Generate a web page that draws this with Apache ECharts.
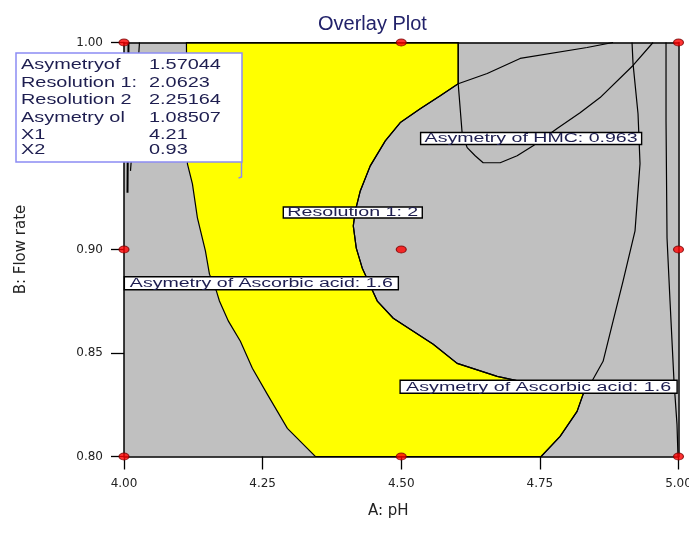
<!DOCTYPE html>
<html><head><meta charset="utf-8">
<script src="https://cdn.jsdelivr.net/npm/echarts@6/dist/echarts.min.js"></script>
<style>html,body{margin:0;padding:0;background:#fff}#c{width:689px;height:548px}</style>
</head><body><div id="c"></div>
<script>
// ---------- data ----------
const xTickLabels = ['4.00', '4.25', '4.50', '4.75', '5.00'];
const yTickLabels = ['0.80', '0.85', '0.90', '0.95', '1.00'];

const designX = [4.0, 4.5, 5.0, 4.0, 4.5, 5.0, 4.0, 4.5, 5.0];
const designY = [1.0, 1.0, 1.0, 0.9, 0.9, 0.9, 0.8, 0.8, 0.8];

// feasible (yellow) region outline
const feasibleX = [4.1126, 4.6027, 4.6027, 4.5703, 4.5342, 4.4982, 4.4712, 4.4441, 4.4261, 4.4171, 4.4135, 4.4189, 4.4297, 4.4568, 4.4856, 4.5216, 4.5577, 4.6009, 4.6730, 4.7144, 4.8405, 4.8279, 4.8171, 4.7865, 4.7523, 4.3450, 4.3180, 4.2946, 4.2586, 4.2315, 4.2099, 4.1883, 4.1721, 4.1667, 4.1541, 4.1468, 4.1324, 4.1234, 4.1144];
const feasibleY = [1.0000, 1.0000, 0.9801, 0.9743, 0.9680, 0.9613, 0.9525, 0.9404, 0.9283, 0.9186, 0.9114, 0.9007, 0.8910, 0.8751, 0.8668, 0.8605, 0.8542, 0.8450, 0.8387, 0.8363, 0.8345, 0.8300, 0.8218, 0.8097, 0.8000, 0.8000, 0.8073, 0.8136, 0.8300, 0.8426, 0.8557, 0.8654, 0.8751, 0.8799, 0.8881, 0.8993, 0.9153, 0.9317, 0.9414];

// contour: Resolution 1 = 2
const resX = [4.8820, 4.8351, 4.7144, 4.6550, 4.6027, 4.5703, 4.5342, 4.4982, 4.4712, 4.4441, 4.4261, 4.4171, 4.4135, 4.4189, 4.4297, 4.4568, 4.4856, 4.5216, 4.5577, 4.6009, 4.6730, 4.7144];
const resY = [1.0000, 0.9976, 0.9923, 0.9850, 0.9801, 0.9743, 0.9680, 0.9613, 0.9525, 0.9404, 0.9283, 0.9186, 0.9114, 0.9007, 0.8910, 0.8751, 0.8668, 0.8605, 0.8542, 0.8450, 0.8387, 0.8363];

// contour: Asymetry of HMC = 0.963
const hmcX = [4.6027, 4.6027, 4.6099, 4.6189, 4.6333, 4.6477, 4.6784, 4.7090, 4.7378, 4.7811, 4.8225, 4.8586, 4.9180, 4.9541];
const hmcY = [1.0000, 0.9801, 0.9559, 0.9492, 0.9453, 0.9419, 0.9419, 0.9453, 0.9501, 0.9584, 0.9661, 0.9734, 0.9889, 1.0000];

// contour: Asymetry of Ascorbic acid = 1.6 (right branch)
const ascRightX = [4.7523, 4.7865, 4.8171, 4.8279, 4.8459, 4.8640, 4.8820, 4.9000, 4.9216, 4.9306, 4.9270, 4.9180, 4.9162];
const ascRightY = [0.8000, 0.8097, 0.8218, 0.8300, 0.8373, 0.8460, 0.8654, 0.8847, 0.9090, 0.9414, 0.9656, 0.9898, 1.0000];

// other contours near the edges
const edgeX = [4.9775, 4.9775, 4.9793, 4.9847, 4.9919, 4.9973, 4.9991];
const edgeY = [1.0000, 0.9622, 0.9056, 0.8751, 0.8363, 0.8155, 0.8000];
const leftAX = [4.0279, 4.0225, 4.0171, 4.0117];
const leftAY = [1.0000, 0.9770, 0.9574, 0.9380];
const leftBX = [4.0081, 4.0072, 4.0063];
const leftBY = [1.0000, 0.9625, 0.9274];

// contour labels
const labelTexts = ['Asymetry of HMC: 0.963', 'Resolution 1: 2', 'Asymetry of Ascorbic acid: 1.6', 'Asymetry of Ascorbic acid: 1.6'];
const labelX = [4.7342, 4.4126, 4.2477, 4.7477];
const labelY = [0.9536, 0.9179, 0.8837, 0.8337];

// flag (info box) contents
const infoNames = ['Asymetryof', 'Resolution 1:', 'Resolution 2', 'Asymetry ol', 'X1', 'X2'];
const infoValues = ['1.57044', '2.0623', '2.25164', '1.08507', '4.21', '0.93'];

// ---------- styling (not data) ----------
const labelBox = [{w: 221, h: 12, tw: 213}, {w: 139, h: 11, tw: 131}, {w: 274, h: 13, tw: 263}, {w: 277, h: 13, tw: 265}];
const labelFont = '12px "Liberation Sans"';
const infoRowY = [65, 83, 100, 118, 135, 150.5];
const txtColor = '#1e1e50';

const mctx = document.createElement('canvas').getContext('2d');
function measure(t, f) { mctx.font = f; return mctx.measureText(t).width; }
const zip = (xs, ys) => xs.map((x, i) => [x, ys[i]]);
function contour(xs, ys, w) {
  return {type: 'line', data: zip(xs, ys), showSymbol: false, symbol: 'none', silent: true,
    lineStyle: {color: '#000', width: w || 1.2}, z: 3, animation: false};
}

const chart = echarts.init(document.getElementById('c'));
const axisFont = 'DejaVu Sans';
const infoEls = [{type: 'rect', z: 100, shape: {x: 16, y: 53, width: 226, height: 109},
  style: {fill: '#fff', stroke: '#8c8cf4', lineWidth: 1.5}},
  {type: 'polyline', z: 100, shape: {points: [[241.5, 162], [241.5, 177], [238.5, 178]]}, style: {stroke: '#8c8cf4', lineWidth: 1.5, fill: null}}];
infoNames.forEach((n, i) => {
  infoEls.push({type: 'text', z: 101, x: 21, y: infoRowY[i], scaleX: 1.42,
    style: {text: n, font: '14px "Liberation Sans"', fill: txtColor, align: 'left', verticalAlign: 'middle'}});
  infoEls.push({type: 'text', z: 101, x: 149, y: infoRowY[i], scaleX: 1.42,
    style: {text: infoValues[i], font: '14px "Liberation Sans"', fill: txtColor, align: 'left', verticalAlign: 'middle'}});
});

chart.setOption({
  animation: false,
  backgroundColor: '#fff',
  title: {text: 'Overlay Plot', left: 313, top: 9,
    textStyle: {fontFamily: 'Liberation Sans', fontSize: 20, fontWeight: 'normal', color: '#22226a'}},
  grid: {left: 124, right: 10.5, top: 42.5, bottom: 91.5, show: true, backgroundColor: '#c0c0c0', borderWidth: 0,
    outerBoundsMode: 'none', containLabel: false},
  xAxis: [{
    type: 'value', min: 4, max: 5, interval: 0.25, position: 'bottom', z: 5,
    axisLine: {lineStyle: {color: '#000', width: 1.5}},
    axisTick: {length: 13, lineStyle: {color: '#000', width: 1.3}},
    axisLabel: {formatter: (v) => xTickLabels[Math.round((v - 4) / 0.25)], fontFamily: axisFont, fontSize: 12, color: '#222', margin: 21},
    splitLine: {show: false},
    name: 'A: pH', nameLocation: 'middle', nameGap: 47,
    nameTextStyle: {fontFamily: axisFont, fontSize: 15, color: '#222', padding: [0, 26, 0, 0]}
  }, {
    type: 'value', min: 4, max: 5, position: 'top', z: 5,
    axisLine: {lineStyle: {color: '#000', width: 1.5}}, axisTick: {show: false}, axisLabel: {show: false}, splitLine: {show: false}
  }],
  yAxis: [{
    type: 'value', min: 0.8, max: 1.0, interval: 0.05, position: 'left', z: 5,
    axisLine: {lineStyle: {color: '#000', width: 1.5}},
    axisTick: {length: 13, lineStyle: {color: '#000', width: 1.3}},
    axisLabel: {formatter: (v) => yTickLabels[Math.round((v - 0.8) / 0.05)], fontFamily: axisFont, fontSize: 12, color: '#222', margin: 21},
    splitLine: {show: false},
    name: 'B: Flow rate', nameLocation: 'middle', nameGap: 95, nameRotate: 90,
    nameTextStyle: {fontFamily: axisFont, fontSize: 15, color: '#222'}
  }, {
    type: 'value', min: 0.8, max: 1.0, position: 'right', z: 5,
    axisLine: {lineStyle: {color: '#000', width: 1.5}}, axisTick: {show: false}, axisLabel: {show: false}, splitLine: {show: false}
  }],
  series: [
    {
      type: 'custom', z: 1, silent: true, data: [[4.5, 0.9]],
      renderItem: function (params, api) {
        const pts = feasibleX.map((x, i) => api.coord([x, feasibleY[i]]));
        return {type: 'polygon', shape: {points: pts}, style: {fill: '#ffff00', stroke: '#000', lineWidth: 1.2}};
      }
    },
    contour(resX, resY),
    contour(hmcX, hmcY),
    contour(ascRightX, ascRightY),
    contour(edgeX, edgeY),
    contour(leftAX, leftAY),
    contour(leftBX, leftBY, 2),
    {
      type: 'custom', z: 6, silent: true, clip: false,
      data: labelTexts.map((t, i) => [labelX[i], labelY[i], i]),
      renderItem: function (params, api) {
        const i = api.value(2);
        const c = api.coord([api.value(0), api.value(1)]);
        const b = labelBox[i];
        const s = b.tw / measure(labelTexts[i], labelFont);
        return {type: 'group', children: [
          {type: 'rect', shape: {x: c[0] - b.w / 2, y: c[1] - b.h / 2, width: b.w, height: b.h},
            style: {fill: '#fff', stroke: '#000', lineWidth: 1.4}},
          {type: 'text', x: c[0], y: c[1] + 0.5, scaleX: s,
            style: {text: labelTexts[i], font: labelFont, fill: txtColor, align: 'center', verticalAlign: 'middle'}}
        ]};
      }
    },
    {
      type: 'scatter', z: 10, clip: false, silent: true,
      data: zip(designX, designY), symbol: 'circle', symbolSize: [10, 7],
      itemStyle: {color: '#ff0000', borderColor: '#7a0000', borderWidth: 1}
    }
  ],
  graphic: {zlevel: 1, elements: infoEls}
});
</script>
</body></html>
